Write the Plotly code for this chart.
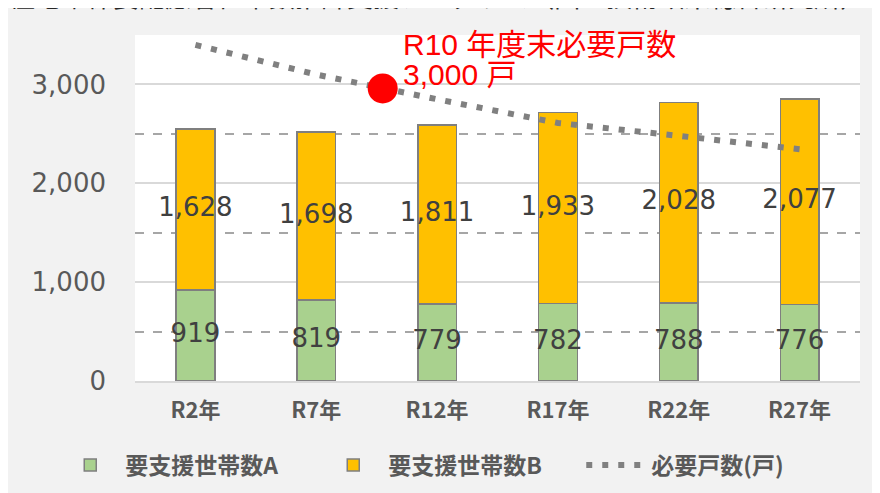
import plotly.graph_objects as go

# ---- data ----
categories = ["R2年", "R7年", "R12年", "R17年", "R22年", "R27年"]
households_a = [919, 819, 779, 782, 788, 776]
households_b = [1628, 1698, 1811, 1933, 2028, 2077]
required_units = [3400, 3100, 2850, 2610, 2480, 2345]
target_pos = 1.55          # R10, between R7 and R12 on the category index scale
target_value = 2960
target_label_1 = "R10 年度末必要戸数"
target_label_2 = "3,000 戸"
title_text = "住宅確保要配慮者世帯数推計支援プログラム（国土技術政策総合研究所）"
y_tickvals = [0, 1000, 2000, 3000]
y_ticktext = ["0", "1,000", "2,000", "3,000"]

x = list(range(len(categories)))
label_font = dict(family="DejaVu Sans", size=26, color="#404040")

fig = go.Figure()
fig.add_trace(go.Bar(
    x=x, y=households_a, name="要支援世帯数A", width=0.32,
    marker=dict(color="#a9d18e", line=dict(color="#7f7f7f", width=1.5)),
))
fig.add_trace(go.Bar(
    x=x, y=households_b, name="要支援世帯数B", width=0.32,
    marker=dict(color="#ffc000", line=dict(color="#7f7f7f", width=1.5)),
))
# data labels centred in each segment
fig.add_trace(go.Scatter(
    x=x, y=[a / 2 for a in households_a], mode="text",
    text=[f"{v:,}" for v in households_a], textfont=label_font,
    showlegend=False, hoverinfo="skip",
))
fig.add_trace(go.Scatter(
    x=x, y=[a + b / 2 for a, b in zip(households_a, households_b)], mode="text",
    text=[f"{v:,}" for v in households_b], textfont=label_font,
    showlegend=False, hoverinfo="skip",
))
fig.add_trace(go.Scatter(
    x=x, y=required_units, name="必要戸数(戸)", mode="lines",
    line=dict(color="#808080", width=6, dash="6px,10px"),
))
fig.add_trace(go.Scatter(
    x=[target_pos], y=[target_value], mode="markers",
    marker=dict(color="#ff0000", size=30), showlegend=False, hoverinfo="skip",
))

fig.add_annotation(x=target_pos, y=target_value, xref="x", yref="y",
                   text=target_label_1, showarrow=False, xanchor="left", yanchor="middle",
                   xshift=18, yshift=44,
                   font=dict(family="Liberation Sans, Noto Sans CJK JP", size=30, color="#ff0000"))
fig.add_annotation(x=target_pos, y=target_value, xref="x", yref="y",
                   text=target_label_2, showarrow=False, xanchor="left", yanchor="middle",
                   xshift=18, yshift=14,
                   font=dict(family="Liberation Sans, Noto Sans CJK JP", size=30, color="#ff0000"))
# top title (cut off by the page edge, as in the reference)
fig.add_annotation(x=-128 / 725, y=1 + 40 / 346, xref="paper", yref="paper",
                   text=title_text, showarrow=False, xanchor="left", yanchor="middle",
                   font=dict(family="Noto Sans CJK JP", size=26, color="#262626"))

# the page body adds an 8px offset; margins compensate so the plot sits at x 135-860, y 35-381
fig.update_layout(
    width=880, height=493,
    margin=dict(l=127, r=28, t=27, b=120, autoexpand=False),
    paper_bgcolor="#f2f2f2", plot_bgcolor="#ffffff",
    barmode="stack",
    showlegend=True,
    legend=dict(orientation="h", x=-0.11, xanchor="left", y=-0.243, yanchor="middle",
                traceorder="normal", entrywidth=188, entrywidthmode="pixels",
                font=dict(family="Noto Sans CJK JP", size=23, color="#595959", weight="bold"),
                itemwidth=60, bgcolor="rgba(0,0,0,0)"),
    xaxis=dict(tickvals=x, ticktext=categories, range=[-0.5, len(categories) - 0.5],
               showgrid=False, zeroline=False, showline=True, linecolor="#d9d9d9", linewidth=2,
               ticks="", ticklabelstandoff=9,
               tickfont=dict(family="Noto Sans CJK JP", size=22, color="#595959", weight="bold")),
    yaxis=dict(range=[0, 3500], tickvals=y_tickvals, ticktext=y_ticktext,
               showgrid=True, gridcolor="#d9d9d9", gridwidth=1.5, zeroline=False,
               ticks="", ticklabelstandoff=28,
               tickfont=dict(family="DejaVu Sans", size=26, color="#595959"),
               minor=dict(dtick=500, tick0=500, showgrid=True, gridcolor="#a6a6a6",
                          griddash="dash", gridwidth=1.5)),
)

fig.write_html("out.html")
